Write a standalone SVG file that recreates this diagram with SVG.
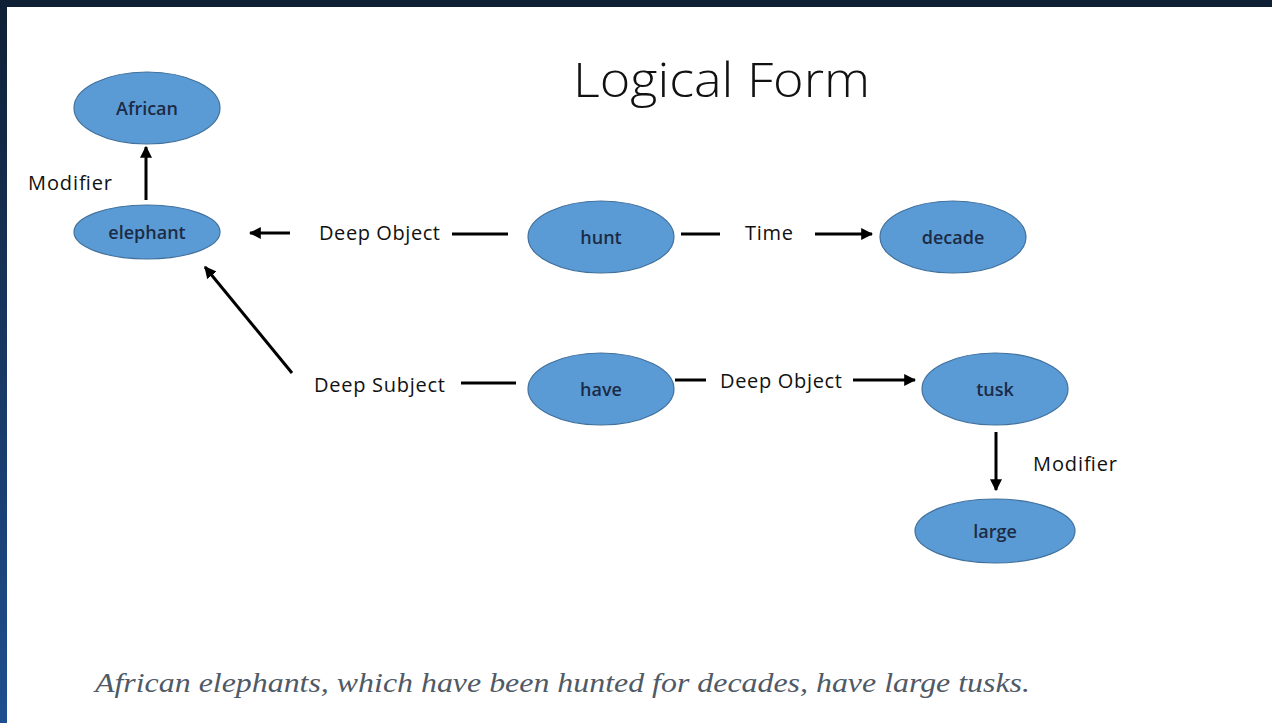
<svg xmlns="http://www.w3.org/2000/svg" width="1272" height="723" viewBox="0 0 1272 723">
<defs>
<linearGradient id="side" x1="0" y1="0" x2="0" y2="1">
<stop offset="0" stop-color="#0f2035"/>
<stop offset="1" stop-color="#1f4f8f"/>
</linearGradient>
<marker id="ah" viewBox="0 0 10 10" refX="9" refY="5" markerWidth="4" markerHeight="4" orient="auto" markerUnits="strokeWidth">
<path d="M0,0 L10,5 L0,10 z" fill="#000"/>
</marker>
</defs>
<style>
.n ellipse{fill:#5b9bd5;stroke:#41719c;stroke-width:1.2}
.n text{font-family:"Open Sans","Liberation Sans",sans-serif;font-size:18px;font-weight:600;fill:#1c2b45;text-anchor:middle;dominant-baseline:central}
.lbl{font-family:"Open Sans","Liberation Sans",sans-serif;font-size:20px;fill:#111}
.c line{stroke:#000;stroke-width:3}
</style>
<rect width="1272" height="723" fill="#fff"/>
<rect x="0" y="0" width="1272" height="7" fill="#0f2035"/>
<rect x="0" y="0" width="7" height="723" fill="url(#side)"/>
<text x="573" y="97" font-family="Open Sans, Liberation Sans, sans-serif" font-size="48" font-weight="300" fill="#111" textLength="297" lengthAdjust="spacingAndGlyphs">Logical Form</text>
<g id="connectors" class="c">
<line x1="146" y1="200" x2="146" y2="147" marker-end="url(#ah)"/>
<line x1="290" y1="233" x2="250" y2="233" marker-end="url(#ah)"/>
<line x1="452" y1="234" x2="508" y2="234"/>
<line x1="681" y1="234" x2="720" y2="234"/>
<line x1="815" y1="234" x2="872" y2="234" marker-end="url(#ah)"/>
<line x1="292" y1="373" x2="205" y2="267" marker-end="url(#ah)"/>
<line x1="461" y1="383" x2="516" y2="383"/>
<line x1="675" y1="380" x2="706" y2="380"/>
<line x1="853" y1="380" x2="915" y2="380" marker-end="url(#ah)"/>
<line x1="996" y1="432" x2="996" y2="490" marker-end="url(#ah)"/>
</g>
<text class="lbl" x="28" y="190" textLength="84">Modifier</text>
<text class="lbl" x="319" y="240" textLength="121">Deep Object</text>
<text class="lbl" x="745" y="240" textLength="48">Time</text>
<text class="lbl" x="314" y="392" textLength="131">Deep Subject</text>
<text class="lbl" x="720" y="388" textLength="122">Deep Object</text>
<text class="lbl" x="1033" y="471" textLength="84">Modifier</text>
<g id="african" class="n"><ellipse cx="147" cy="108" rx="73" ry="36"/><text x="147" y="108">African</text></g>
<g id="elephant" class="n"><ellipse cx="147" cy="232" rx="73" ry="27"/><text x="147" y="232">elephant</text></g>
<g id="hunt" class="n"><ellipse cx="601" cy="237" rx="73" ry="36"/><text x="601" y="237">hunt</text></g>
<g id="decade" class="n"><ellipse cx="953" cy="237" rx="73" ry="36"/><text x="953" y="237">decade</text></g>
<g id="have" class="n"><ellipse cx="601" cy="389" rx="73" ry="36"/><text x="601" y="389">have</text></g>
<g id="tusk" class="n"><ellipse cx="995" cy="389" rx="73" ry="36"/><text x="995" y="389">tusk</text></g>
<g id="large" class="n"><ellipse cx="995" cy="531" rx="80" ry="32"/><text x="995" y="531">large</text></g>
<text x="95" y="692" font-family="Liberation Serif, serif" font-style="italic" font-size="28" fill="#505a66" textLength="935" lengthAdjust="spacingAndGlyphs">African elephants, which have been hunted for decades, have large tusks.</text>
</svg>
